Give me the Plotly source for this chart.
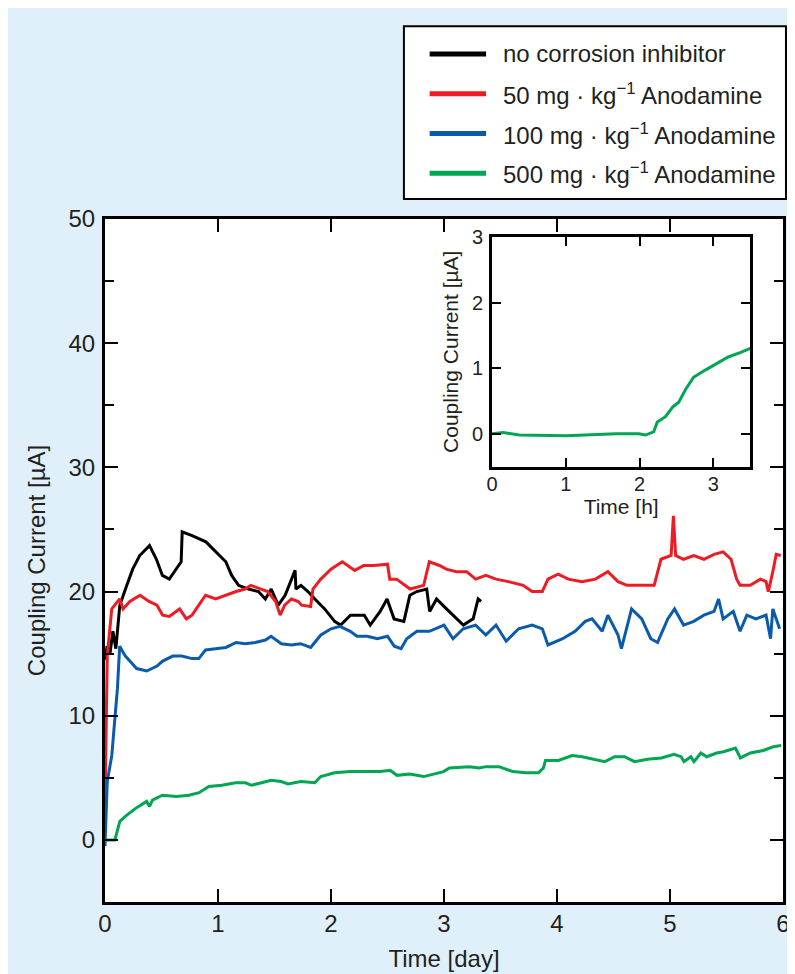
import plotly.graph_objects as go

# ---------------- data ----------------
series_names = [
    "no corrosion inhibitor",
    "50 mg · kg<sup>−1</sup> Anodamine",
    "100 mg · kg<sup>−1</sup> Anodamine",
    "500 mg · kg<sup>−1</sup> Anodamine",
]
series_colors = ["#000000", "#ed1c24", "#0a5bab", "#00a651"]

black_day = [0.005, 0.018, 0.044, 0.070, 0.096, 0.131, 0.193, 0.245, 0.307, 0.350, 0.394, 0.455, 0.508,
             0.569, 0.631, 0.674, 0.683, 0.771, 0.893, 0.981, 1.069, 1.121, 1.182, 1.270, 1.358, 1.419,
             1.471, 1.533, 1.594, 1.682, 1.690, 1.734, 1.796, 1.857, 1.944, 2.032, 2.085, 2.172, 2.295,
             2.347, 2.435, 2.496, 2.558, 2.645, 2.698, 2.759, 2.847, 2.873, 2.934, 3.022, 3.109, 3.171,
             3.258, 3.302, 3.328]
black_val = [14.5, 15.6, 15.0, 16.8, 15.4, 18.9, 20.5, 21.8, 22.9, 23.3, 23.7, 22.6, 21.3,
             21.0, 21.8, 22.4, 24.8, 24.5, 24.0, 23.2, 22.4, 21.3, 20.5, 20.2, 20.0, 19.4,
             20.2, 18.9, 19.7, 21.7, 20.2, 20.5, 20.0, 19.4, 18.6, 17.6, 17.3, 18.1, 18.1,
             17.3, 18.4, 19.4, 17.8, 17.6, 19.7, 20.0, 20.2, 18.4, 19.4, 18.6, 17.8, 17.3,
             17.8, 19.4, 19.2]

red_day = [0.0, 0.01, 0.02, 0.06, 0.13, 0.16, 0.22, 0.31, 0.39, 0.46, 0.51, 0.57, 0.66, 0.72, 0.77,
           0.83, 0.89, 0.98, 1.07, 1.16, 1.24, 1.29, 1.38, 1.44, 1.51, 1.55, 1.59, 1.65, 1.71, 1.74,
           1.82, 1.84, 1.91, 2.00, 2.10, 2.21, 2.29, 2.38, 2.50, 2.52, 2.58, 2.70, 2.82, 2.87, 2.96,
           3.02, 3.11, 3.20, 3.28, 3.37, 3.46, 3.57, 3.70, 3.78, 3.87, 3.92, 4.01, 4.10, 4.22, 4.34,
           4.45, 4.54, 4.62, 4.75, 4.86, 4.92, 5.01, 5.03, 5.05, 5.12, 5.21, 5.30, 5.39, 5.47, 5.54,
           5.59, 5.62, 5.71, 5.80, 5.85, 5.87, 5.91, 5.94, 5.98]
red_val = [3.0, 10.0, 14.8, 18.6, 19.4, 18.6, 19.2, 19.7, 19.2, 18.9, 18.1, 18.0, 18.6, 17.8, 18.1,
           18.9, 19.7, 19.4, 19.7, 20.0, 20.2, 20.5, 20.2, 20.0, 19.2, 18.1, 18.9, 19.4, 19.2, 18.9,
           18.8, 20.2, 21.0, 21.8, 22.4, 21.7, 22.1, 22.1, 22.2, 21.0, 21.0, 20.2, 20.5, 22.4, 22.1,
           21.8, 21.6, 21.6, 21.0, 21.3, 21.0, 20.8, 20.5, 20.0, 20.0, 21.0, 21.4, 21.0, 20.8, 21.0,
           21.6, 20.8, 20.5, 20.5, 20.5, 22.6, 22.9, 26.1, 22.9, 22.6, 22.9, 22.6, 23.0, 23.2, 22.6,
           21.0, 20.5, 20.5, 21.0, 20.8, 20.0, 21.6, 23.0, 22.9]

blue_day = [0.0, 0.02, 0.06, 0.09, 0.11, 0.13, 0.18, 0.22, 0.28, 0.37, 0.46, 0.51, 0.60, 0.68, 0.77,
            0.83, 0.89, 0.98, 1.07, 1.16, 1.24, 1.33, 1.42, 1.47, 1.56, 1.65, 1.73, 1.82, 1.91, 2.00,
            2.08, 2.17, 2.23, 2.32, 2.41, 2.50, 2.56, 2.62, 2.67, 2.76, 2.87, 3.00, 3.08, 3.17, 3.28,
            3.37, 3.46, 3.55, 3.66, 3.78, 3.87, 3.92, 4.05, 4.16, 4.25, 4.31, 4.40, 4.45, 4.54, 4.57,
            4.66, 4.75, 4.83, 4.89, 4.98, 5.04, 5.12, 5.21, 5.30, 5.39, 5.43, 5.47, 5.56, 5.62, 5.68,
            5.76, 5.85, 5.89, 5.91, 5.97]
blue_val = [-0.5, 4.7, 6.8, 9.8, 12.2, 15.6, 14.8, 14.4, 13.8, 13.6, 14.0, 14.4, 14.8, 14.8, 14.6,
            14.6, 15.3, 15.4, 15.5, 15.9, 15.8, 15.9, 16.1, 16.4, 15.8, 15.7, 15.8, 15.5, 16.5, 17.0,
            17.2, 16.8, 16.4, 16.4, 16.2, 16.4, 15.6, 15.4, 16.2, 16.8, 16.8, 17.3, 16.2, 17.0, 17.3,
            16.5, 17.3, 16.0, 17.0, 17.3, 17.0, 15.7, 16.2, 16.8, 17.6, 17.8, 16.8, 18.1, 16.5, 15.4,
            18.6, 17.8, 16.2, 15.9, 17.8, 18.6, 17.3, 17.6, 18.1, 18.4, 19.4, 17.8, 18.4, 16.8, 18.1,
            17.8, 18.1, 16.2, 18.6, 17.0]

green_day = [0.0, 0.088, 0.131, 0.193, 0.28, 0.368, 0.394, 0.42, 0.508, 0.631, 0.745, 0.832, 0.92,
             1.034, 1.156, 1.244, 1.296, 1.419, 1.471, 1.559, 1.62, 1.734, 1.857, 1.909, 2.032, 2.172,
             2.295, 2.435, 2.523, 2.584, 2.698, 2.82, 2.908, 2.996, 3.048, 3.223, 3.311, 3.372, 3.486,
             3.609, 3.723, 3.836, 3.88, 3.898, 4.012, 4.134, 4.222, 4.309, 4.423, 4.511, 4.598, 4.686,
             4.8, 4.923, 5.036, 5.098, 5.124, 5.185, 5.212, 5.273, 5.325, 5.413, 5.474, 5.579, 5.623,
             5.711, 5.825, 5.913, 5.983]
green_val = [0.0, 0.0, 1.5, 2.0, 2.6, 3.1, 2.7, 3.2, 3.6, 3.5, 3.6, 3.8, 4.3,
             4.4, 4.6, 4.6, 4.4, 4.7, 4.8, 4.7, 4.5, 4.7, 4.6, 5.1, 5.4, 5.5,
             5.5, 5.5, 5.6, 5.2, 5.3, 5.1, 5.3, 5.5, 5.8, 5.9, 5.8, 5.9, 5.9,
             5.5, 5.4, 5.4, 5.8, 6.4, 6.4, 6.8, 6.7, 6.5, 6.3, 6.7, 6.7, 6.3,
             6.5, 6.6, 6.9, 6.7, 6.3, 6.7, 6.3, 7.0, 6.7, 7.0, 7.1, 7.4, 6.6,
             7.0, 7.2, 7.5, 7.6]

inset_hour = [0.0, 0.15, 0.37, 1.0, 1.68, 1.99, 2.08, 2.19, 2.24, 2.35, 2.45, 2.53, 2.62, 2.73,
              2.89, 3.03, 3.20, 3.37, 3.50]
inset_val = [0.0, 0.02, -0.02, -0.03, 0.0, 0.0, -0.02, 0.03, 0.18, 0.26, 0.41, 0.48, 0.67, 0.86,
             0.97, 1.06, 1.17, 1.24, 1.30]

main_xticks = [0, 1, 2, 3, 4, 5, 6]
main_yticks = [0, 10, 20, 30, 40, 50]
inset_xticks = [0, 1, 2, 3]
inset_yticks = [0, 1, 2, 3]

# ---------------- figure ----------------
OFF = 8                      # page body margin (screen px)
W, H = 787, 966              # figure size (fills the window from the body margin on)
ML, MR, MT, MB = 97, 5, 211, 68
PW, PH = W - ML - MR, H - MT - MB


def px(x):
    """screen x pixel -> paper x"""
    return (x - OFF - ML) / PW


def py(y):
    """screen y pixel -> paper y"""
    return (H - MB - (y - OFF)) / PH


FONT = "Liberation Sans, Arial, Helvetica, sans-serif"
TXT = "#231f20"
BG = "#dff0fb"

fig = go.Figure()
series = [(black_day, black_val), (red_day, red_val), (blue_day, blue_val), (green_day, green_val)]
for (xd, yd), name, col in zip(series, series_names, series_colors):
    fig.add_trace(go.Scatter(x=xd, y=yd, mode="lines", name=name,
                             line=dict(color=col, width=3), showlegend=False,
                             xaxis="x", yaxis="y"))

fig.add_trace(go.Scatter(x=inset_hour, y=inset_val, mode="lines", name=series_names[3],
                         line=dict(color=series_colors[3], width=3), showlegend=False,
                         xaxis="x2", yaxis="y2"))

axis_common = dict(showline=True, linecolor="black", mirror="ticks", ticks="inside",
                   tickcolor="black", showgrid=False, zeroline=False)

fig.update_layout(
    width=W, height=H,
    margin=dict(l=ML, r=MR, t=MT, b=MB, pad=0),
    paper_bgcolor=BG, plot_bgcolor="white",
    font=dict(family=FONT, color=TXT),
    showlegend=False,
    xaxis=dict(range=[0, 6], tickvals=main_xticks, linewidth=3, ticklen=13, tickwidth=2,
               tickfont=dict(size=24, color=TXT), ticklabelstandoff=-2, ticklabeloverflow="allow",
               title=dict(text="Time [day]", font=dict(size=24, color=TXT), standoff=15),
               domain=[0, 1], anchor="y", **axis_common),
    yaxis=dict(range=[-5, 50], tickvals=main_yticks, linewidth=3, ticklen=13, tickwidth=2,
               tickfont=dict(size=24, color=TXT), ticklabelstandoff=2,
               minor=dict(dtick=5, tick0=0, ticks="inside", ticklen=9, tickwidth=2, tickcolor="black"),
               title=dict(text="Coupling Current [µA]", font=dict(size=24, color=TXT), standoff=17),
               domain=[0, 1], anchor="x", **axis_common),
    xaxis2=dict(range=[0, 3.5], tickvals=inset_xticks, linewidth=3, ticklen=9, tickwidth=2,
                tickfont=dict(size=20, color=TXT), ticklabelstandoff=-3,
                title=dict(text="Time [h]", font=dict(size=21, color=TXT), standoff=0),
                domain=[px(496), px(757)], anchor="y2", **axis_common),
    yaxis2=dict(range=[-0.5, 3], tickvals=inset_yticks, linewidth=3, ticklen=9, tickwidth=2,
                tickfont=dict(size=20, color=TXT), ticklabelstandoff=2,
                title=dict(text="Coupling Current [µA]", font=dict(size=21, color=TXT), standoff=8),
                domain=[py(468), py(237)], anchor="x2", **axis_common),
)

shapes = [
    # legend box
    dict(type="rect", xref="paper", yref="paper", x0=px(407), x1=px(793), y0=py(199), y1=py(25),
         fillcolor="white", line=dict(color="black", width=2)),
]
annotations = []
row_y = [53, 93, 133, 173]
for name, col, ry in zip(series_names, series_colors, row_y):
    shapes.append(dict(type="line", xref="paper", yref="paper", x0=px(433), x1=px(490),
                       y0=py(ry), y1=py(ry), line=dict(color=col, width=5)))
    annotations.append(dict(xref="paper", yref="paper", x=px(505), y=py(ry), text=name,
                            showarrow=False, xanchor="left", yanchor="middle",
                            font=dict(size=24, color=TXT, family=FONT)))

fig.update_layout(shapes=shapes, annotations=annotations)

fig.write_html("out.html")
